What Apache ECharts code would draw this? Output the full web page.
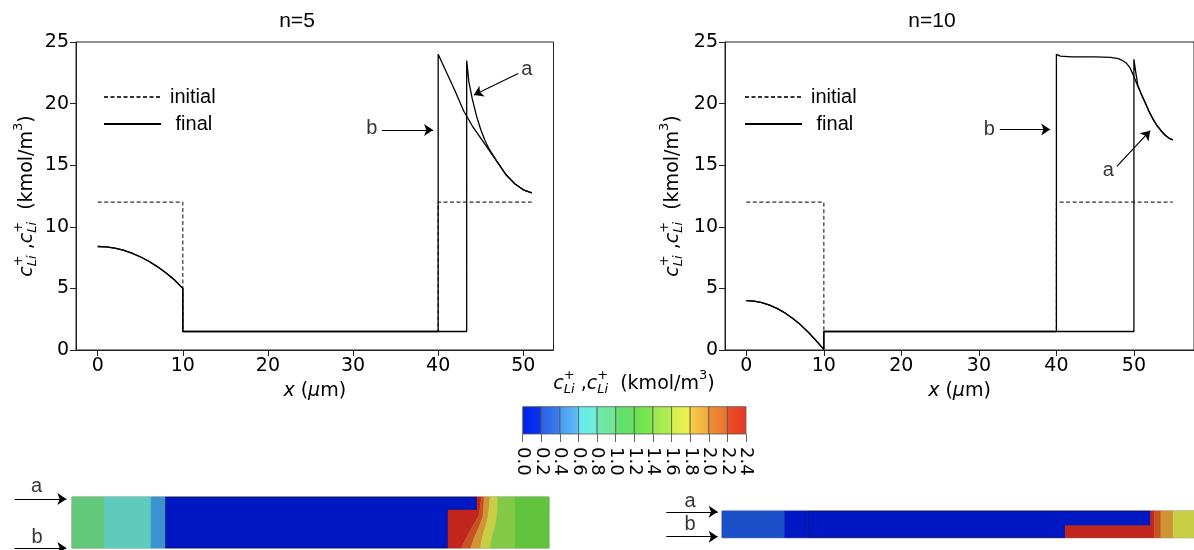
<!DOCTYPE html>
<html>
<head>
<meta charset="utf-8">
<script src="https://cdn.jsdelivr.net/npm/echarts@6/dist/echarts.min.js"></script>
<style>
  html, body { margin: 0; padding: 0; background: #fff; }
  #chart { width: 1194px; height: 550px; }
</style>
</head>
<body>
<div id="chart"></div>
<script>
// ---- profile data (x in um, c in kmol/m3) ----
const xTicks = [0, 10, 20, 30, 40, 50];

const n5Initial = [[0, 12], [10, 12], [10, 1.5], [40, 1.5], [40, 12], [51, 12]];
const n5Anode = [[0, 8.4], [1, 8.37], [2, 8.27], [3, 8.1], [4, 7.87], [5, 7.57], [6, 7.2],
  [7, 6.77], [8, 6.27], [9, 5.7], [10, 5.0], [10, 1.5]];
const n5FinalB = [[40, 1.5], [40, 24.0], [41, 22.5], [42, 21.0], [43, 19.4], [44, 18.2],
  [45, 17.2], [46, 16.2], [47, 15.2], [48, 14.2], [49, 13.5], [50, 13.0], [51, 12.75]];
const n5FinalA = [[43.35, 1.5], [43.35, 23.5], [43.6, 21.8], [44, 20.4], [44.5, 19.0],
  [45, 17.9], [45.5, 17.0], [46, 16.3], [47, 15.2], [48, 14.2], [49, 13.5], [50, 13.0], [51, 12.75]];

const n10Initial = [[0, 12], [10, 12], [10, 1.5], [40, 1.5], [40, 12], [55, 12]];
const n10Anode = [[0, 4.0], [1, 3.96], [2, 3.84], [3, 3.64], [4, 3.36], [5, 3.0], [6, 2.56],
  [7, 2.04], [8, 1.44], [9, 0.76], [10, 0.05], [10, 1.5]];
const n10FinalB = [[40, 1.5], [40, 24.0], [40.5, 23.85], [42, 23.8], [45, 23.8], [47, 23.75],
  [48, 23.65], [48.5, 23.5], [49, 23.3], [49.5, 22.9], [50, 22.2], [50.5, 21.4], [51, 20.7],
  [51.5, 20.0], [52, 19.3], [52.5, 18.7], [53, 18.2], [53.5, 17.8], [54, 17.45], [54.5, 17.2], [55, 17.05]];
const n10FinalA = [[50, 1.5], [50, 23.6], [50.2, 22.7], [50.5, 21.5], [51, 20.7], [51.5, 20.0],
  [52, 19.3], [52.5, 18.7], [53, 18.2], [53.5, 17.8], [54, 17.45], [54.5, 17.2], [55, 17.05]];

// annotations: [label, textX, textY, arrowFromX, arrowFromY, arrowToX, arrowToY]
const n5Notes = [['b', 32.2, 17.95, 33.4, 17.86, 39.4, 17.86], ['a', 50.4, 22.8, 49.4, 22.45, 44.2, 20.7]];
const n10Notes = [['b', 31.35, 17.9, 32.7, 17.9, 39.2, 17.9], ['a', 46.7, 14.6, 47.8, 14.9, 52.1, 17.8]];

// ---- colour bar ----
const cbTicks = [0.0, 0.2, 0.4, 0.6, 0.8, 1.0, 1.2, 1.4, 1.6, 1.8, 2.0, 2.2, 2.4];
const cbColors = [['#0020e8', '#0838f0'], ['#2860e8', '#4080f0'], ['#4898f0', '#60c0f8'],
  ['#68e8f0', '#70f0d8'], ['#70e8b0', '#70e890'], ['#60e070', '#68e060'], ['#68e050', '#80e850'],
  ['#98e850', '#b8f050'], ['#d0f050', '#f0f050'], ['#f8d048', '#f0a840'], ['#f09038', '#e87030'],
  ['#e85028', '#e83828']];
const stripPalette = ['#0018c4', '#1b50c8', '#3c92d2', '#5ecbbd', '#62c87a', '#62c43e',
  '#84c945', '#a8cc45', '#c8cf45', '#cf9535', '#c65222', '#c0261c'];

// ---- contour strips (x in um, y 0 = line b, 1 = line a) ----
const n5Edge = [[43.3, 1], [43.3, 0.745], [40.2, 0.745], [40.2, 0]];
const n5B1 = [[43.79, 1], [43.6, 0.745], [43.47, 0.614], [42.9, 0.45], [42.44, 0.288], [41.62, 0]];
const n5B2 = [[44.07, 1], [44.0, 0.745], [43.95, 0.614], [43.5, 0.4], [43.06, 0.222], [42.64, 0]];
const n5B3 = [[44.69, 1], [44.6, 0.745], [44.48, 0.614], [44.2, 0.4], [43.87, 0.222], [43.67, 0]];
const n5B4 = [[45.5, 1], [45.47, 0.745], [45.43, 0.614], [45.2, 0.4], [44.9, 0.222], [44.69, 0]];
const n5B5 = [[47.35, 1], [47.35, 0]];
const n5End = [[51, 1], [51, 0]];
const band = (l, r) => l.concat(r.slice().reverse());
const stripN5 = [
  { v: 0.9, pts: [[0, 1], [0, 0], [3.42, 0], [3.42, 1]] },
  { v: 0.7, pts: [[3.42, 1], [3.42, 0], [8.45, 0], [8.45, 1]] },
  { v: 0.5, pts: [[8.45, 1], [8.45, 0], [10, 0], [10, 1]] },
  { v: 0.1, pts: [[10, 1], [10, 0]].concat(n5Edge.slice().reverse()), edge: true },
  { v: 2.3, pts: band(n5Edge, n5B1) },
  { v: 2.1, pts: band(n5B1, n5B2) },
  { v: 1.9, pts: band(n5B2, n5B3) },
  { v: 1.7, pts: band(n5B3, n5B4) },
  { v: 1.3, pts: band(n5B4, n5B5) },
  { v: 1.1, pts: band(n5B5, n5End) }
];
const stripN10 = [
  { v: 0.3, pts: [[0, 1], [0, 0], [7.28, 0], [7.28, 1]] },
  { v: 0.1, pts: [[7.28, 1], [7.28, 0], [10, 0], [10, 1]] },
  { v: 0.1, pts: [[10, 1], [10, 0], [40, 0], [40, 0.45], [49.94, 0.45], [49.94, 1]], edge: true },
  { v: 2.3, pts: [[40, 0], [50.38, 0], [50.38, 1], [49.94, 1], [49.94, 0.45], [40, 0.45]] },
  { v: 2.1, pts: [[50.38, 0], [51.14, 0], [51.14, 1], [50.38, 1]] },
  { v: 1.9, pts: [[51.14, 0], [52.58, 0], [52.58, 1], [51.14, 1]] },
  { v: 1.7, pts: [[52.58, 0], [55, 0], [55, 1], [52.58, 1]] }
];
// strip markers: [label, textX, textY, fromX, fromY, toX, toY]
const stripN5Notes = [['a', -3.8, 1.2, -6.15, 0.96, -0.6, 0.96], ['b', -3.74, 0.2, -6.15, 0.0, -0.6, 0.0]];
const stripN10Notes = [['a', -3.73, 1.35, -6.49, 0.97, -0.5, 0.97], ['b', -3.73, 0.48, -6.49, 0.04, -0.5, 0.04]];

// ---- helpers ----
const FONT = 'DejaVu Sans';
const SANS = 'Liberation Sans';
const measure = document.createElement('canvas').getContext('2d');
function tw(text, size, italic) {
  measure.font = (italic ? 'italic ' : '') + size + 'px "' + FONT + '"';
  return measure.measureText(text).width;
}
// c_Li^+ ,c_Li^+  (kmol/m^3)
function mathLabel(cx, cy, rot) {
  const S = 19, s = 13;
  const parts = [];
  let x = 0;
  const add = (text, size, italic, dy) => {
    parts.push({ text, size, italic, x, dy });
    return tw(text, size, italic);
  };
  const cLi = () => {
    x += add('c', S, true, 0);
    const w1 = add('+', s, false, -8);
    const w2 = add('Li', s, true, 6);
    x += Math.max(w1, w2);
  };
  cLi();
  x += add(' ,', S, false, 0);
  cLi();
  x += add('  (kmol/m', S, false, 0);
  x += add('3', s, false, -8);
  x += add(')', S, false, 0);
  const total = x;
  return {
    type: 'group', x: cx, y: cy, rotation: rot, silent: true,
    children: parts.map(p => ({
      type: 'text', x: p.x - total / 2, y: p.dy,
      style: {
        text: p.text, fontSize: p.size, fontFamily: FONT,
        fontStyle: p.italic ? 'italic' : 'normal',
        fill: '#000', align: 'left', verticalAlign: 'middle'
      }
    }))
  };
}

function plotX(gi, min, max) {
  return {
    gridIndex: gi, type: 'value', min, max,
    axisLine: { show: true, onZero: false, lineStyle: { color: '#222', width: 1 } },
    axisTick: { show: true, length: 6, customValues: xTicks, lineStyle: { color: '#222' } },
    axisLabel: { customValues: xTicks, fontSize: 19, fontFamily: FONT, color: '#000', margin: 7 },
    splitLine: { show: false },
    name: '{i|x} ({i|\u03bc}m)', nameLocation: 'middle', nameGap: 32,
    nameTextStyle: {
      fontSize: 19, fontFamily: FONT, color: '#000',
      rich: { i: { fontSize: 19, fontFamily: FONT, fontStyle: 'italic', color: '#000' } }
    }
  };
}
function plotY(gi) {
  return {
    gridIndex: gi, type: 'value', min: 0, max: 25, interval: 5,
    axisLine: { show: true, onZero: false, lineStyle: { color: '#222', width: 1 } },
    axisTick: { show: true, length: 6, lineStyle: { color: '#222' } },
    axisLabel: { fontSize: 19, fontFamily: FONT, color: '#000', margin: 7 },
    splitLine: { show: false }
  };
}
function hiddenAxis(gi, min, max) {
  return { gridIndex: gi, type: 'value', min, max, show: false };
}
function lineSeries(gi, name, data, dashed) {
  return {
    type: 'line', name, xAxisIndex: gi, yAxisIndex: gi, data, symbol: 'none', silent: true,
    lineStyle: dashed ? { color: '#333', width: 1.2, type: [4, 2.5] } : { color: '#000', width: 1.3 },
    itemStyle: { color: dashed ? '#333' : '#000' },
    z: dashed ? 2 : 3
  };
}
function arrowSeries(gi, notes) {
  return {
    type: 'lines', coordinateSystem: 'cartesian2d', xAxisIndex: gi, yAxisIndex: gi,
    clip: false, silent: true, symbol: ['none', 'arrow'], symbolSize: 9,
    lineStyle: { color: '#000', width: 1.2, opacity: 1, curveness: 0 },
    data: notes.map(n => ({ coords: [[n[3], n[4]], [n[5], n[6]]] })), z: 5
  };
}
function noteSeries(gi, notes) {
  return {
    type: 'scatter', xAxisIndex: gi, yAxisIndex: gi, clip: false, silent: true,
    symbolSize: 0,
    label: { show: true, position: 'inside', formatter: '{b}', fontSize: 20, fontFamily: SANS, color: '#000' },
    data: notes.map(n => ({ name: n[0], value: [n[1], n[2]] })), z: 5
  };
}
function stripSeries(gi, regions) {
  return {
    type: 'custom', xAxisIndex: gi, yAxisIndex: gi, silent: true,
    data: regions.map((r, i) => [i, 0]),
    renderItem(params, api) {
      const r = regions[params.dataIndex];
      const bin = Math.min(11, Math.floor(r.v / 0.2));
      return {
        type: 'polygon',
        shape: { points: r.pts.map(p => api.coord(p)) },
        style: {
          fill: stripPalette[bin],
          stroke: r.edge ? 'rgba(10,10,40,0.7)' : stripPalette[bin],
          lineWidth: r.edge ? 0.8 : 0.5
        }
      };
    }
  };
}

const cbBins = cbTicks.slice(0, -1).map((t, i) => [t, cbTicks[i + 1], i]);

const chart = echarts.init(document.getElementById('chart'), null, { renderer: 'canvas' });
const legendBase = {
  data: ['initial', 'final'], orient: 'vertical', itemWidth: 57, itemHeight: 14, itemGap: 7,
  textStyle: { fontSize: 20, fontFamily: SANS, color: '#000', padding: [0, 0, 0, 4] },
  itemStyle: { color: 'transparent', borderColor: 'transparent', borderWidth: 0 },
  formatter: n => (n === 'final' ? ' final' : n),
  selectedMode: false, padding: 0
};
const titleStyle = { fontSize: 21, fontWeight: 'normal', fontFamily: SANS, color: '#000' };

chart.setOption({
  animation: false,
  backgroundColor: '#fff',
  title: [
    { text: 'n=5', left: 297, top: 11, textAlign: 'center', padding: 0, textStyle: titleStyle },
    { text: 'n=10', left: 932, top: 11, textAlign: 'center', padding: 0, textStyle: titleStyle }
  ],
  legend: [
    Object.assign({ left: 103, top: 87 }, legendBase),
    Object.assign({ left: 744, top: 87 }, legendBase)
  ],
  grid: [
    { left: 76, top: 42, width: 477.5, height: 308, show: true, borderColor: '#222', borderWidth: 1 },
    { left: 725, top: 42, width: 475, height: 308, show: true, borderColor: '#222', borderWidth: 1 },
    { left: 522.7, top: 406.7, width: 223.3, height: 27.3, show: false },
    { left: 72, top: 497, width: 477, height: 51, show: true, borderColor: '#888', borderWidth: 1 },
    { left: 722, top: 511, width: 474.6, height: 26.7, show: true, borderColor: '#888', borderWidth: 1 }
  ],
  xAxis: [
    plotX(0, -2.55, 53.55),
    plotX(1, -2.75, 57.75),
    {
      gridIndex: 2, type: 'value', min: 0, max: 2.4,
      axisLine: { show: false },
      axisTick: { show: true, length: 8, customValues: cbTicks, lineStyle: { color: '#666' } },
      axisLabel: { customValues: cbTicks, rotate: -90, margin: 13, fontSize: 18, fontFamily: FONT,
        color: '#000', formatter: v => v.toFixed(1) },
      splitLine: { show: false }
    },
    hiddenAxis(3, 0, 51),
    hiddenAxis(4, 0, 55)
  ],
  yAxis: [plotY(0), plotY(1), hiddenAxis(2, 0, 1), hiddenAxis(3, 0, 1), hiddenAxis(4, 0, 1)],
  series: [
    lineSeries(0, 'initial', n5Initial, true),
    lineSeries(0, 'final', n5Anode.concat(n5FinalB), false),
    lineSeries(0, 'final', n5Anode.concat(n5FinalA), false),
    lineSeries(1, 'initial', n10Initial, true),
    lineSeries(1, 'final', n10Anode.concat(n10FinalB), false),
    lineSeries(1, 'final', n10Anode.concat(n10FinalA), false),
    arrowSeries(0, n5Notes), noteSeries(0, n5Notes),
    arrowSeries(1, n10Notes), noteSeries(1, n10Notes),
    {
      type: 'custom', xAxisIndex: 2, yAxisIndex: 2, silent: true,
      data: cbBins,
      renderItem(params, api) {
        const p0 = api.coord([api.value(0), 1]);
        const p1 = api.coord([api.value(1), 0]);
        const c = cbColors[api.value(2)];
        return {
          type: 'rect',
          shape: { x: p0[0], y: p0[1], width: p1[0] - p0[0], height: p1[1] - p0[1] },
          style: {
            fill: { type: 'linear', x: 0, y: 0, x2: 1, y2: 0,
              colorStops: [{ offset: 0, color: c[0] }, { offset: 1, color: c[1] }] },
            stroke: '#555', lineWidth: 0.8
          }
        };
      }
    },
    stripSeries(3, stripN5), stripSeries(4, stripN10),
    arrowSeries(3, stripN5Notes), noteSeries(3, stripN5Notes),
    arrowSeries(4, stripN10Notes), noteSeries(4, stripN10Notes)
  ],
  graphic: [
    mathLabel(27, 196, Math.PI / 2),
    mathLabel(673, 196, Math.PI / 2),
    mathLabel(634, 384, 0)
  ]
});
</script>
</body>
</html>
